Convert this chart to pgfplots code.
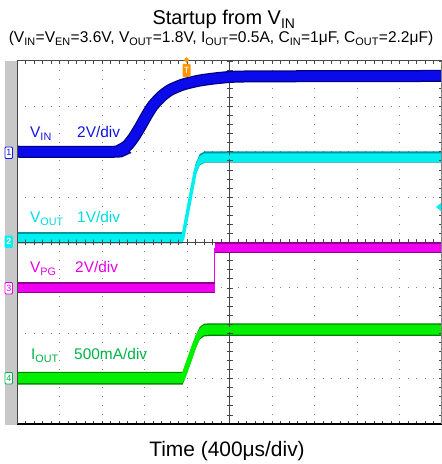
\documentclass[border=0pt]{standalone}
\usepackage{pgfplots}
\usepackage{pgfplotstable}
\pgfplotsset{compat=1.18}
\usepgfplotslibrary{fillbetween}
\usepackage{fontspec}
\setmainfont{Liberation Sans}
\definecolor{vinc}{RGB}{10,10,235}
\definecolor{vind}{RGB}{0,0,130}
\definecolor{voutc}{RGB}{0,240,240}
\definecolor{voutd}{RGB}{0,150,160}
\definecolor{vpgc}{RGB}{240,0,240}
\definecolor{vpgd}{RGB}{140,0,140}
\definecolor{ioutc}{RGB}{0,240,0}
\definecolor{ioutd}{RGB}{0,130,0}
\definecolor{ioutl}{RGB}{0,180,70}
\definecolor{vinl}{RGB}{20,20,230}
\definecolor{voutl}{RGB}{0,220,230}
\definecolor{vpgl}{RGB}{230,0,230}
\definecolor{gridc}{RGB}{130,130,130}
\definecolor{tickc}{RGB}{70,70,70}
\definecolor{strip}{RGB}{200,200,200}
\definecolor{trig}{RGB}{255,150,0}

\pgfplotstableread{
x y
0 6.0
2.3 6.0
2.45 6.05
2.6 6.14
2.75 6.32
2.9 6.55
3.05 6.8
3.2 7.02
3.4 7.22
3.6 7.36
3.9 7.48
4.3 7.57
4.8 7.63
5.5 7.66
10 7.67
}\vin

\pgfplotstableread{
x y
0 4.1
3.9 4.1
4.2 5.6
4.3 5.82
4.42 5.88
10 5.88
}\vout

\pgfplotstableread{
x y
0 3.0
4.66 3.0
}\vpglow

\pgfplotstableread{
x y
4.66 3.88
10 3.88
}\vpghigh

\pgfplotstableread{
x y
0 1.01
3.9 1.01
4.05 1.4
4.2 1.8
4.3 2.0
4.4 2.07
4.55 2.08
10 2.08
}\iout

\newcommand\lbl{\fontsize{15.5}{18}\selectfont}

\begin{document}
\begin{tikzpicture}[x=1bp,y=1bp]

% gray strip
\fill[strip] (5,39) rectangle (16.5,403);

% center lines and ticks
\draw[tickc, line width=0.8bp] (229.5,40) -- (229.5,403);
\draw[tickc, line width=0.8bp] (17,221.5) -- (442,221.5);
\foreach \k in {0,...,50} {
  \draw[tickc, line width=0.7bp] ({17+8.5*\k},218.5) -- ({17+8.5*\k},224.5);
  \draw[tickc, line width=0.7bp] ({17+8.5*\k},403) -- ({17+8.5*\k},400);
  \draw[tickc, line width=0.7bp] ({17+8.5*\k},40) -- ({17+8.5*\k},43);
}
\foreach \k in {0,...,40} {
  \draw[tickc, line width=0.7bp] (226.5,{40+9.075*\k}) -- (232.5,{40+9.075*\k});
  \draw[tickc, line width=0.7bp] (441.5,{40+9.075*\k}) -- (438.5,{40+9.075*\k});
}

\begin{axis}[at={(17bp,40bp)}, anchor=south west, width=425bp, height=363bp,
  scale only axis, xmin=0, xmax=10, ymin=0, ymax=8,
  xtick={1,...,9}, ytick={1,...,7}, xticklabels={}, yticklabels={},
  major tick length=0pt, grid=major,
  major x grid style={gridc, line width=1bp, dash pattern=on 1bp off 8.075bp, dash phase=0.5bp},
  major y grid style={gridc, line width=1bp, dash pattern=on 1bp off 7.5bp, dash phase=0.5bp},
  axis line style={draw=none}, clip=true]

% VIN
\addplot[vind, line width=12bp, smooth, tension=0.4] table {\vin};
\addplot[vinc, line width=9.5bp, smooth, tension=0.4] table {\vin};

% VOUT
\addplot[name path=voA, draw=none] table[y expr=\thisrow{y}+0.13] {\vout};
\addplot[name path=voB, draw=none] table[y expr=\thisrow{y}-0.12] {\vout};
\addplot[voutd] fill between[of=voA and voB];
\addplot[name path=voC, draw=none] table[y expr=\thisrow{y}+0.085] {\vout};
\addplot[name path=voD, draw=none] table[y expr=\thisrow{y}-0.105] {\vout};
\addplot[voutc] fill between[of=voC and voD];
\addplot[voutc, line width=3.5bp] table {\vout};

% VPG
\addplot[vpgc, line width=1.2bp] coordinates {(4.64,3.0) (4.64,3.88)};
\addplot[vpgd, line width=11bp] table {\vpglow};
\addplot[vpgc, line width=8.5bp] table {\vpglow};
\addplot[vpgd, line width=11bp] table {\vpghigh};
\addplot[vpgc, line width=8.5bp] table {\vpghigh};

% IOUT
\addplot[name path=ioA, draw=none] table[y expr=\thisrow{y}+0.14] {\iout};
\addplot[name path=ioB, draw=none] table[y expr=\thisrow{y}-0.14] {\iout};
\addplot[ioutd] fill between[of=ioA and ioB];
\addplot[name path=ioC, draw=none] table[y expr=\thisrow{y}+0.11] {\iout};
\addplot[name path=ioD, draw=none] table[y expr=\thisrow{y}-0.11] {\iout};
\addplot[ioutc] fill between[of=ioC and ioD];
\addplot[ioutc, line width=5bp] table {\iout};
\end{axis}

% borders
\draw[tickc, line width=1bp] (17,403) -- (442,403);
\draw[black, line width=2.2bp] (17,40) -- (442,40);
\draw[tickc, line width=0.9bp] (17,40) -- (17,403);
\draw[gridc, line width=0.8bp] (441.6,40) -- (441.6,403);

% channel markers
\draw[vinl, fill=white, line width=0.8bp, rounded corners=1bp] (5,305.5) rectangle (12.5,317);
\node[vinl, font=\fontsize{9}{10}\selectfont] at (8.75,311.2) {1};
\draw[voutc, fill=voutc, line width=0.8bp, rounded corners=1bp] (5,216.5) rectangle (12.5,228);
\node[white, font=\fontsize{9}{10}\selectfont\bfseries] at (8.75,222.2) {2};
\draw[vpgl, fill=white, line width=0.8bp, rounded corners=1bp] (5,170) rectangle (12.5,181.5);
\node[vpgl, font=\fontsize{9}{10}\selectfont] at (8.75,175.7) {3};
\draw[ioutl, fill=white, line width=0.8bp, rounded corners=1bp] (5,80) rectangle (12.5,91.5);
\node[ioutl, font=\fontsize{9}{10}\selectfont] at (8.75,85.7) {4};

% trigger marker
\fill[trig] (186.5,407) -- (189,404) -- (186.5,401) -- (184,404) -- cycle;
\fill[trig, rounded corners=1bp] (182.5,387) rectangle (190.5,400);
\node[white, font=\fontsize{9}{10}\selectfont] at (186.5,393.5) {T};

% cyan arrow right
\fill[voutc] (436,257) -- (441,261) -- (441,253) -- cycle;

% labels
\node[vinl, anchor=base west, inner sep=0] at (30,326) {\lbl V\textsubscript{IN}};
\node[vinl, anchor=base west, inner sep=0] at (77,326) {\lbl 2V/div};
\node[voutl, anchor=base west, inner sep=0] at (30,241) {\lbl V\textsubscript{OUT}};
\node[voutl, anchor=base west, inner sep=0] at (77,241) {\lbl 1V/div};
\node[vpgl, anchor=base west, inner sep=0] at (30,191) {\lbl V\textsubscript{PG}};
\node[vpgl, anchor=base west, inner sep=0] at (75,191) {\lbl 2V/div};
\node[ioutl, anchor=base west, inner sep=0] at (31,104) {\lbl I\textsubscript{OUT}};
\node[ioutl, anchor=base west, inner sep=0] at (74,104) {\lbl 500mA/div};

% titles
\node[anchor=base, inner sep=0] at (224,439) {\fontsize{20}{24}\selectfont Startup from V\textsubscript{IN}};
\node[anchor=base, inner sep=0] at (221,421) {\fontsize{15.6}{18}\selectfont (V\textsubscript{IN}=V\textsubscript{EN}=3.6V, V\textsubscript{OUT}=1.8V, I\textsubscript{OUT}=0.5A, C\textsubscript{IN}=1μF, C\textsubscript{OUT}=2.2μF)};
\node[anchor=base, inner sep=0] at (227,7) {\fontsize{21}{25}\selectfont Time (400μs/div)};

\pgfresetboundingbox
\path[use as bounding box] (0,0) rectangle (442,464);
\end{tikzpicture}
\end{document}
